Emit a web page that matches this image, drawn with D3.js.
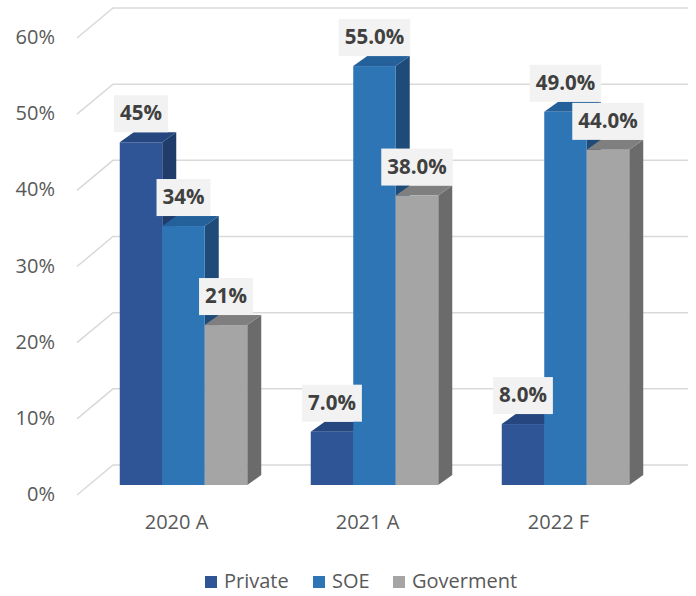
<!DOCTYPE html>
<html>
<head>
<meta charset="utf-8">
<script src="https://cdn.jsdelivr.net/npm/d3@7"></script>
<style>
  html, body { margin: 0; padding: 0; background: #ffffff; }
  svg { display: block; font-family: "Open Sans", "Noto Sans", sans-serif; }
</style>
</head>
<body>
<svg id="chart" width="696" height="596"></svg>
<script>
// Data
const categories = ["2020 A", "2021 A", "2022 F"];
const seriesNames = ["Private", "SOE", "Goverment"];
const privateValues = [0.45, 0.07, 0.08];
const soeValues = [0.34, 0.55, 0.49];
const govValues = [0.21, 0.38, 0.44];
const labelDecimals = [0, 1, 1];
const yTicks = [0, 0.1, 0.2, 0.3, 0.4, 0.5, 0.6];

const seriesValues = [privateValues, soeValues, govValues];
const colors = {
  Private:   { front: "#2f5597", side: "#203c6b", top: "#25467e" },
  SOE:       { front: "#2e75b6", side: "#1e4b78", top: "#24609a" },
  Goverment: { front: "#a5a5a5", side: "#6b6b6b", top: "#7f7f7f" }
};

const svg = d3.select("#chart");

// 3D geometry: bars stand on a plane between the front axis edge and the back wall
const depthX = 14, depthY = 10;          // bar depth offset
const wallDX = 36, wallFront = 10, wallBack = 20;
const axisX = 77, wallRight = 688;

const y = d3.scaleLinear().domain([0, 0.6]).range([485, 28]);
const x0 = d3.scaleBand().domain(categories).range([88, 661]);
const x1 = d3.scaleBand().domain(seriesNames).range([0, x0.bandwidth()]).paddingOuter(0.747);

// Gridlines: short diagonal on the side wall, then along the back wall
const grid = svg.append("g");
yTicks.forEach(t => {
  const yy = y(t);
  grid.append("path")
    .attr("d", `M${axisX},${yy + wallFront}L${axisX + wallDX},${yy - wallBack}L${wallRight},${yy - wallBack}`)
    .attr("fill", "none")
    .attr("stroke", "#d9d9d9")
    .attr("stroke-width", 1.5);
});

// Y axis labels
svg.append("g").selectAll("text")
  .data(yTicks)
  .join("text")
  .attr("x", 55)
  .attr("y", d => y(d) + wallFront - 1)
  .attr("dy", "0.35em")
  .attr("text-anchor", "end")
  .attr("font-size", 20)
  .attr("fill", "#595959")
  .text(d => d3.format(".0%")(d));

// Bars (side, top, front), drawn left to right so later bars overlap earlier sides
const bars = svg.append("g");
const labels = [];
categories.forEach((cat, ci) => {
  seriesNames.forEach((s, si) => {
    const v = seriesValues[si][ci];
    const xl = x0(cat) + x1(s);
    const w = x1.bandwidth();
    const yt = y(v), yb = y(0);
    const c = colors[s];
    bars.append("path")
      .attr("d", `M${xl + w},${yb}L${xl + w + depthX},${yb - depthY}L${xl + w + depthX},${yt - depthY}L${xl + w},${yt}Z`)
      .attr("fill", c.side);
    bars.append("path")
      .attr("d", `M${xl},${yt}L${xl + depthX},${yt - depthY}L${xl + w + depthX},${yt - depthY}L${xl + w},${yt}Z`)
      .attr("fill", c.top);
    bars.append("rect")
      .attr("x", xl).attr("y", yt)
      .attr("width", w).attr("height", yb - yt)
      .attr("fill", c.front);
    labels.push({ v, cx: xl + w / 2, yTop: yt - depthY, dec: labelDecimals[ci] });
  });
});

// Data labels with light boxes
const lg = svg.append("g");
labels.forEach(d => {
  const g = lg.append("g");
  const rect = g.append("rect").attr("fill", "#f2f2f2");
  const txt = g.append("text")
    .attr("x", d.cx)
    .attr("y", d.yTop - 19)
    .attr("dy", "0.35em")
    .attr("text-anchor", "middle")
    .attr("font-size", 20.5)
    .attr("font-weight", "bold")
    .attr("fill", "#404040")
    .text(d3.format(`.${d.dec}%`)(d.v));
  const tw = txt.node().getComputedTextLength();
  rect.attr("x", d.cx - tw / 2 - 6).attr("y", d.yTop - 37)
    .attr("width", tw + 12).attr("height", 37);
});

// Category labels
svg.append("g").selectAll("text")
  .data(categories)
  .join("text")
  .attr("x", d => x0(d) + x0.bandwidth() / 2 - 7)
  .attr("y", 522)
  .attr("dy", "0.35em")
  .attr("text-anchor", "middle")
  .attr("font-size", 20)
  .attr("fill", "#595959")
  .text(d => d);

// Legend
const legendX = [205, 313, 393];
const legend = svg.append("g");
seriesNames.forEach((s, i) => {
  legend.append("rect")
    .attr("x", legendX[i]).attr("y", 576)
    .attr("width", 12).attr("height", 12)
    .attr("fill", colors[s].front);
  legend.append("text")
    .attr("x", legendX[i] + 19).attr("y", 581)
    .attr("dy", "0.35em")
    .attr("font-size", 20)
    .attr("fill", "#595959")
    .text(s);
});
</script>
</body>
</html>
